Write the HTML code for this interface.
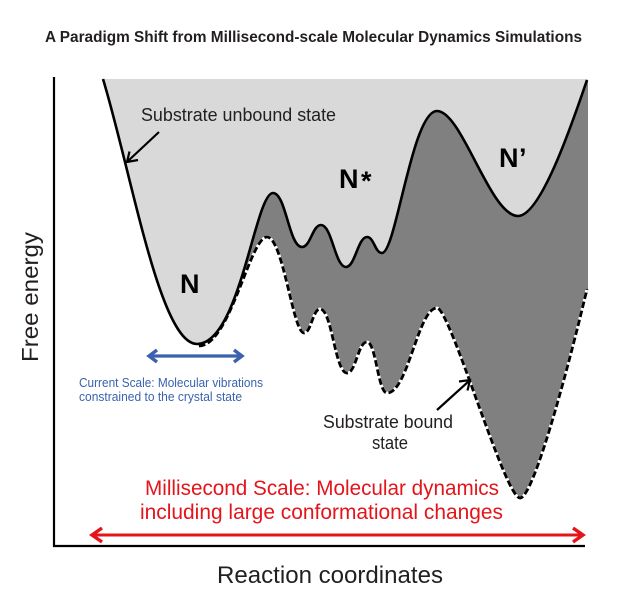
<!DOCTYPE html>
<html>
<head>
<meta charset="utf-8">
<style>
  html,body{margin:0;padding:0;background:#ffffff;}
  svg{display:block;}
  text{font-family:"Liberation Sans", Arial, sans-serif;}
</style>
</head>
<body>
<svg width="621" height="605" viewBox="0 0 621 605" xmlns="http://www.w3.org/2000/svg">
  <rect x="0" y="0" width="621" height="605" fill="#ffffff"/>

  <!-- Title -->
  <text x="45" y="42" font-size="15.5" font-weight="bold" fill="#231f20" textLength="537" lengthAdjust="spacingAndGlyphs">A Paradigm Shift from Millisecond-scale Molecular Dynamics Simulations</text>

  <!-- Light grey region (above solid curve) -->
  <path d="M103,79 C132,175 160,344 197,344
           C240,344 255,193 273,193
           C286,193 289,247 302,247
           C310.5,247 312.5,225 321,225
           C332,225 335,267 346,267
           C355,267 358,237 367,237
           C374,237 375,253 382,253
           C396,253 412,111 437,111
           C462,111 490,216 518,216
           C540,216 570,130 587,80
           L588,80 L588,79 Z" fill="#d9d9d9"/>

  <!-- Dark grey region (between solid and dashed) -->
  <path d="M197,344
           C240,344 255,193 273,193
           C286,193 289,247 302,247
           C310.5,247 312.5,225 321,225
           C332,225 335,267 346,267
           C355,267 358,237 367,237
           C374,237 375,253 382,253
           C396,253 412,111 437,111
           C462,111 490,216 518,216
           C540,216 570,130 587,80
           L588,80 L588,295 L587,289
           C575,340 535,498 520,498
           C505,498 450,308 437,308
           C418,308 408,393 387,393
           C378,393 376,342 367,342
           C358,342 356,373 347,373
           C335,373 332,309 320,309
           C313,309 311,333 304,333
           C293,333 283,237 267,237
           C250,237 230,346 199,346 Z" fill="#808080"/>

  <!-- Dashed curve: white underlay then black dashes -->
  <path d="M199,346 C230,346 250,237 267,237
           C283,237 293,333 304,333
           C311,333 313,309 320,309
           C332,309 335,373 347,373
           C356,373 358,342 367,342
           C376,342 378,393 387,393
           C408,393 418,308 437,308
           C450,308 505,498 520,498
           C535,498 575,340 587,289"
        fill="none" stroke="#ffffff" stroke-width="2.8"/>
  <path d="M199,346 C230,346 250,237 267,237
           C283,237 293,333 304,333
           C311,333 313,309 320,309
           C332,309 335,373 347,373
           C356,373 358,342 367,342
           C376,342 378,393 387,393
           C408,393 418,308 437,308
           C450,308 505,498 520,498
           C535,498 575,340 587,289"
        fill="none" stroke="#000000" stroke-width="2.8" stroke-dasharray="6.5,2.8"/>

  <!-- Solid curve -->
  <path d="M103,79 C132,175 160,344 197,344
           C240,344 255,193 273,193
           C286,193 289,247 302,247
           C310.5,247 312.5,225 321,225
           C332,225 335,267 346,267
           C355,267 358,237 367,237
           C374,237 375,253 382,253
           C396,253 412,111 437,111
           C462,111 490,216 518,216
           C540,216 570,130 587,80"
        fill="none" stroke="#000000" stroke-width="2.6" stroke-linejoin="round"/>

  <!-- Axes -->
  <line x1="54" y1="77" x2="54" y2="547" stroke="#000" stroke-width="2.2"/>
  <line x1="53" y1="546" x2="585" y2="546" stroke="#000" stroke-width="2.2"/>

  <!-- Axis labels -->
  <text transform="translate(38,297) rotate(-90)" text-anchor="middle" font-size="23" fill="#231f20" textLength="130" lengthAdjust="spacingAndGlyphs">Free energy</text>
  <text x="217" y="583" font-size="24" fill="#231f20" textLength="226" lengthAdjust="spacingAndGlyphs">Reaction coordinates</text>

  <!-- Substrate unbound state label + arrow -->
  <text x="141" y="121" font-size="18" fill="#231f20" textLength="195" lengthAdjust="spacingAndGlyphs">Substrate unbound state</text>
  <line x1="159" y1="132" x2="128" y2="161" stroke="#000" stroke-width="2.2"/>
  <polyline points="138,160 127,162 129.5,151.5" fill="none" stroke="#000" stroke-width="2.2"/>

  <!-- Substrate bound state label + arrow -->
  <text x="323" y="428" font-size="18" fill="#231f20" textLength="130" lengthAdjust="spacingAndGlyphs">Substrate bound</text>
  <text x="372" y="449" font-size="18" fill="#231f20" textLength="36" lengthAdjust="spacingAndGlyphs">state</text>
  <line x1="437" y1="410" x2="469" y2="381" stroke="#000" stroke-width="2.2"/>
  <polyline points="459,381.5 470,380 467.5,390.5" fill="none" stroke="#000" stroke-width="2.2"/>

  <!-- State labels -->
  <text x="180" y="293" font-size="27" font-weight="bold" fill="#000">N</text>
  <text x="339" y="188" font-size="27" font-weight="bold" fill="#000">N</text>
  <text x="361" y="190" font-size="27" font-weight="bold" fill="#000">*</text>
  <text x="499" y="167" font-size="27" font-weight="bold" fill="#000">N</text>
  <text x="519" y="167" font-size="27" font-weight="bold" fill="#000">’</text>

  <!-- Blue arrow + text -->
  <line x1="151" y1="356" x2="240" y2="356" stroke="#3a62ae" stroke-width="3.2"/>
  <polyline points="157,350 149,356 157,362" fill="none" stroke="#3a62ae" stroke-width="3.4" stroke-linejoin="miter"/>
  <polyline points="234,350 242,356 234,362" fill="none" stroke="#3a62ae" stroke-width="3.4" stroke-linejoin="miter"/>
  <text x="79" y="387" font-size="12.5" fill="#3a62ae" textLength="184" lengthAdjust="spacingAndGlyphs">Current Scale: Molecular vibrations</text>
  <text x="79" y="401" font-size="12.5" fill="#3a62ae" textLength="163" lengthAdjust="spacingAndGlyphs">constrained to the crystal state</text>

  <!-- Red text + arrow -->
  <text x="145" y="495" font-size="21" fill="#e4141b" textLength="354" lengthAdjust="spacingAndGlyphs">Millisecond Scale: Molecular dynamics</text>
  <text x="140" y="519" font-size="21" fill="#e4141b" textLength="363" lengthAdjust="spacingAndGlyphs">including large conformational changes</text>
  <line x1="93" y1="535" x2="582" y2="535" stroke="#e4141b" stroke-width="3"/>
  <polyline points="102,528 92,535 102,542" fill="none" stroke="#e4141b" stroke-width="3.4"/>
  <polyline points="573,528 583,535 573,542" fill="none" stroke="#e4141b" stroke-width="3.4"/>
</svg>
</body>
</html>
